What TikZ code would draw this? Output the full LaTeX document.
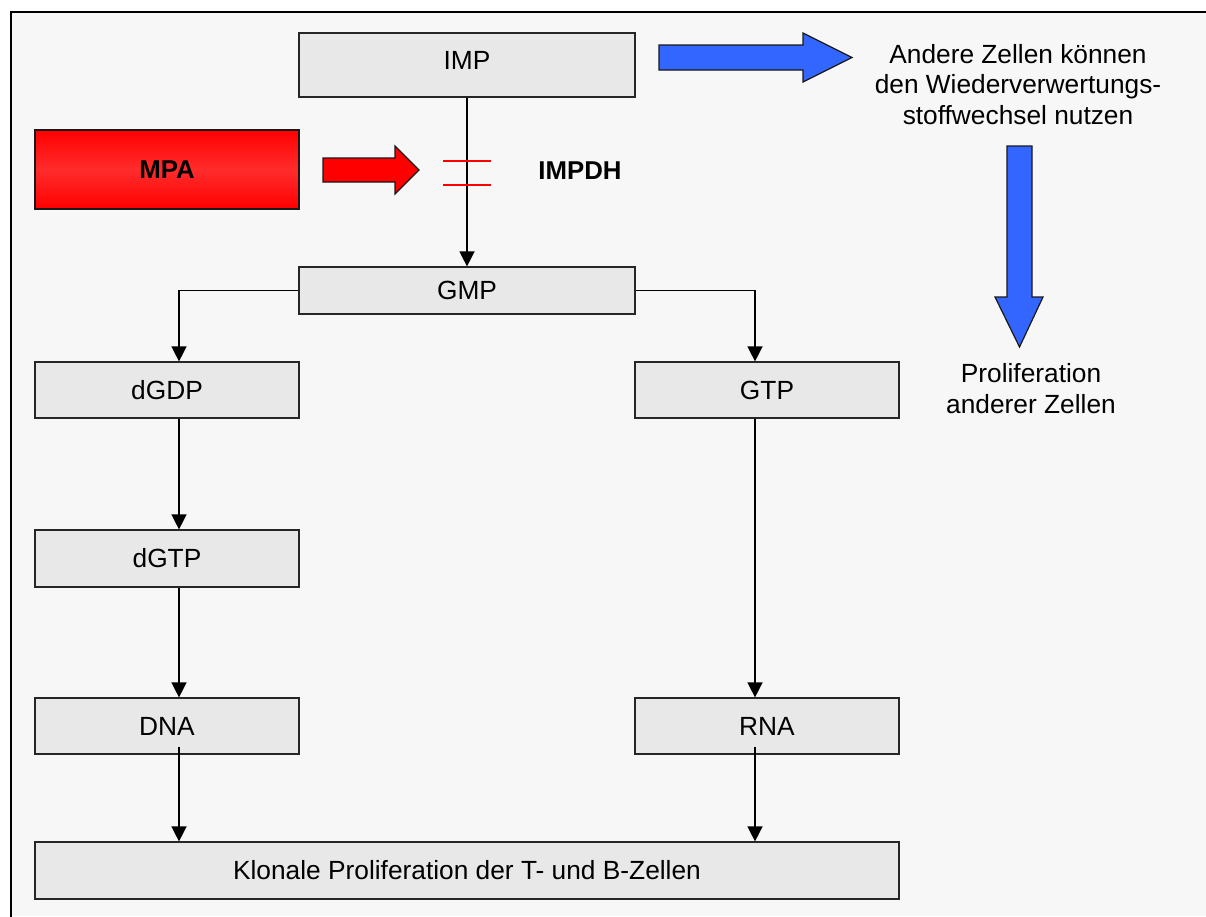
\documentclass[tikz,border=0pt]{standalone}
\usepackage{fontspec}
\setmainfont{Liberation Sans}
\usetikzlibrary{arrows.meta}
\definecolor{bg}{HTML}{F7F7F7}
\definecolor{boxfill}{HTML}{E8E8E8}
\definecolor{blueArr}{HTML}{3366FF}
\definecolor{mpalight}{HTML}{FF2C2C}
\definecolor{inhib}{HTML}{FF0000}
\begin{document}
\begin{tikzpicture}[x=1pt,y=-1pt,
  font=\fontsize{26.3}{30.5}\selectfont,
  pbox/.style={draw=black!85, line width=1.2pt, fill=boxfill, inner sep=0pt,
    text height=18.8pt, text depth=0pt},
  conn/.style={line width=1.4pt, draw=black, -{Triangle[length=15pt,width=15pt]}},
  blockarrow/.style={draw=black!90, line width=1.2pt, line join=miter},
  inhibline/.style={draw=inhib, line width=2pt},
  plaintext/.style={align=center, inner sep=0pt},
]
\useasboundingbox (0,0) rectangle (1206,916);
\clip (0,0) rectangle (1206,916);
\fill[white] (0,0) rectangle (1206,916);
\fill[bg] (11,12) rectangle (1206,916);
\draw[line width=1.6pt, line cap=rect] (11,916) -- (11,12) -- (1206,12);

% boxes
\node[pbox, minimum width=336pt, minimum height=64pt, text depth=10pt] (IMP) at (467,65) {IMP};
\node[pbox, draw=black!90, minimum width=264pt, minimum height=79pt,
  top color=red, bottom color=red, middle color=mpalight, font=\fontsize{25.8}{30.5}\selectfont\bfseries] (MPA) at (167,169.5) {MPA};
\node[pbox, minimum width=336pt, minimum height=47pt] (GMP) at (467,290.5) {GMP};
\node[pbox, minimum width=264pt, minimum height=56pt] (dGDP) at (167,390) {dGDP};
\node[pbox, minimum width=264pt, minimum height=56pt] (GTP) at (767,390) {GTP};
\node[pbox, minimum width=264pt, minimum height=57pt] (dGTP) at (167,558.5) {dGTP};
\node[pbox, minimum width=264pt, minimum height=56pt] (DNA) at (167,726) {DNA};
\node[pbox, minimum width=264pt, minimum height=56pt] (RNA) at (767,726) {RNA};
\node[pbox, minimum width=864pt, minimum height=57pt] (KP) at (467,870.5) {Klonale Proliferation der T- und B-Zellen};

% texts
\node[plaintext, font=\fontsize{25.8}{30.5}\selectfont\bfseries] (IMPDH) at (580,171) {IMPDH};
\node[plaintext] (andere) at (1018,84.5) {Andere Zellen können\\den Wiederverwertungs-\\stoffwechsel nutzen};
\node[plaintext] (prolif) at (1031,388.5) {Proliferation\\anderer Zellen};

% helper coordinates for connector columns
\coordinate (lx) at (179,0);
\coordinate (rx) at (755,0);

% connectors
\draw[conn] (IMP.south) -- (GMP.north);
\draw[conn] (GMP.west) -| (dGDP.north -| lx);
\draw[conn] (GMP.east) -| (GTP.north -| rx);
\draw[conn] (dGDP.south -| lx) -- (dGTP.north -| lx);
\draw[conn] (dGTP.south -| lx) -- (DNA.north -| lx);
\draw[conn] ([yshift=8pt]DNA.south -| lx) -- (KP.north -| lx);
\draw[conn] (GTP.south -| rx) -- (RNA.north -| rx);
\draw[conn] ([yshift=8pt]RNA.south -| rx) -- (KP.north -| rx);

% inhibition marks
\draw[inhibline] (443,161) -- (491,161);
\draw[inhibline] (443,185) -- (491,185);

% block arrows
\draw[blockarrow, fill=red] (323,158) -- (395,158) -- (395,146) -- (419,170) -- (395,194) -- (395,182) -- (323,182) -- cycle;
\draw[blockarrow, fill=blueArr] (659,45) -- (803,45) -- (803,33) -- (852,57.5) -- (803,82) -- (803,70) -- (659,70) -- cycle;
\draw[blockarrow, fill=blueArr] (1007,146) -- (1032,146) -- (1032,297) -- (1043,297) -- (1019.5,347) -- (995,297) -- (1007,297) -- cycle;
\end{tikzpicture}
\end{document}
